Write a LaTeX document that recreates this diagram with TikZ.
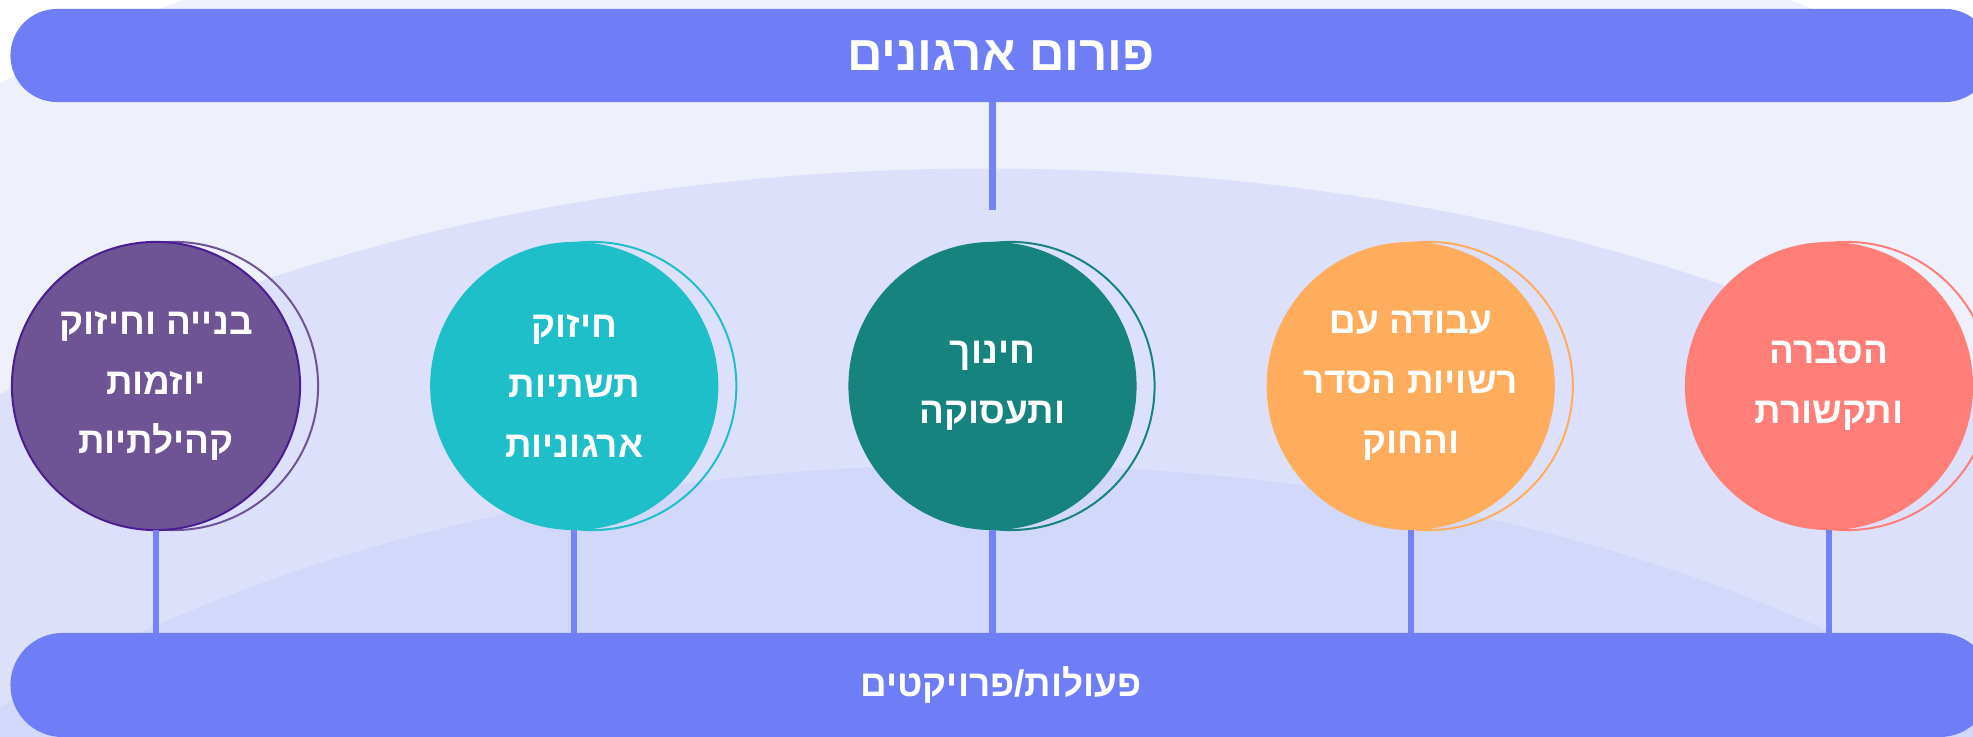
\documentclass[tikz,border=0pt]{standalone}
\usepackage{fontspec}
\usepackage{tikz}
\usetikzlibrary{calc,positioning,backgrounds}
\TeXXeTstate=1
\newfontfamily\hebfont[Script=Hebrew]{Liberation Sans}
\newcommand{\heb}[1]{\beginR #1\endR}

\definecolor{barblue}{HTML}{6F7EF7}
\definecolor{linkblue}{HTML}{7382F8}
\definecolor{bandA}{HTML}{EEF0FC}
\definecolor{bandB}{HTML}{DDE0FB}
\definecolor{bandC}{HTML}{D2D8F9}
\definecolor{purp}{HTML}{6E5494}
\definecolor{purpedge}{HTML}{4B1C93}
\definecolor{tealL}{HTML}{1FBFCA}
\definecolor{tealD}{HTML}{16837F}
\definecolor{orng}{HTML}{FFAD5C}
\definecolor{salmon}{HTML}{FF7F78}

\begin{document}
\begin{tikzpicture}[
      x=0.01cm, y=-0.01cm,
      node distance=1.3cm,
      topic/.style={circle,minimum size=2.88cm,inner sep=0pt,outer sep=0pt,align=center,text=white,
        font=\hebfont\bfseries\fontsize{10.5}{17}\selectfont},
      bar/.style={rectangle,fill=barblue,text=white,minimum width=19.8cm,inner sep=0pt,outer sep=0pt},
      ring/.style={line width=0.02cm},
      link/.style={draw=linkblue,line width=0.06cm}
    ]
    \useasboundingbox (0,0) rectangle (1973,737);

    % Bars
    \node[bar,minimum height=0.93cm,rounded corners=0.465cm,
      font=\hebfont\bfseries\fontsize{14}{17}\selectfont] (forum) at (1001,55.5) {\heb{פורום ארגונים}};
    \node[bar,minimum height=1.04cm,rounded corners=0.52cm,
      font=\hebfont\bfseries\fontsize{10.5}{14}\selectfont] (actions) at (1001,685) {\heb{פעולות/פרויקטים}};

    % Topics
    \node[topic,fill=purp,draw=purpedge,line width=0.02cm] (c1) at (156,386)
      {\heb{בנייה וחיזוק}\\\heb{יוזמות}\\\heb{קהילתיות}};
    \node[topic,fill=tealL,right=of c1] (c2) {\heb{חיזוק}\\\heb{תשתיות}\\\heb{ארגוניות}};
    \node[topic,fill=tealD,right=of c2] (c3) {\heb{חינוך}\\\heb{ותעסוקה}};
    \node[topic,fill=orng,right=of c3] (c4) {\heb{עבודה עם}\\\heb{רשויות הסדר}\\\heb{והחוק}};
    \node[topic,fill=salmon,right=of c4] (c5) {\heb{הסברה}\\\heb{ותקשורת}};

    % Links
    \coordinate (topend) at ($(c3.north)+(0,0.32cm)$);
    \draw[link] (forum.south -| topend) -- (topend);
    \draw[link] (c1.south) -- (c1.south |- actions.north);
    \draw[link] (c2.south) -- (c2.south |- actions.north);
    \draw[link] (c3.south) -- (c3.south |- actions.north);
    \draw[link] (c4.south) -- (c4.south |- actions.north);
    \draw[link] (c5.south) -- (c5.south |- actions.north);

    % Background bands and rings
    \begin{scope}[on background layer]
      \clip (0,0) rectangle (1973,737);
      \fill[white] (0,0) rectangle (1973,737);
      \fill[bandA] (986,488) ellipse (13cm and 6.2cm);
      \fill[bandB] (986,949) ellipse (14cm and 7.8cm);
      \fill[bandC] (986,1165) ellipse (13cm and 7cm);
      \draw[ring,draw=purp] ($(c1)+(0.18cm,0)$) circle (1.44cm);
      \draw[ring,draw=tealL] ($(c2)+(0.18cm,0)$) circle (1.44cm);
      \draw[ring,draw=tealD] ($(c3)+(0.18cm,0)$) circle (1.44cm);
      \draw[ring,draw=orng] ($(c4)+(0.18cm,0)$) circle (1.44cm);
      \draw[ring,draw=salmon] ($(c5)+(0.18cm,0)$) circle (1.44cm);
    \end{scope}
  \end{tikzpicture}
\end{document}
